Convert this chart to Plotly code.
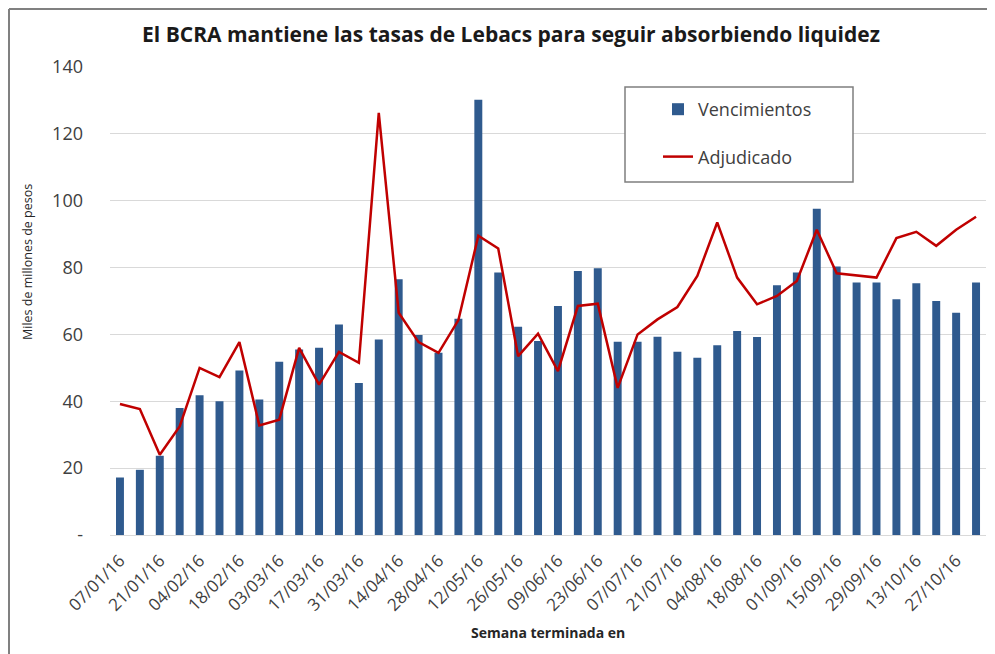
import plotly.graph_objects as go

semanas = ["07/01/16", "14/01/16", "21/01/16", "28/01/16", "04/02/16", "11/02/16",
           "18/02/16", "25/02/16", "03/03/16", "10/03/16", "17/03/16", "24/03/16",
           "31/03/16", "07/04/16", "14/04/16", "21/04/16", "28/04/16", "05/05/16",
           "12/05/16", "19/05/16", "26/05/16", "02/06/16", "09/06/16", "16/06/16",
           "23/06/16", "30/06/16", "07/07/16", "14/07/16", "21/07/16", "28/07/16",
           "04/08/16", "11/08/16", "18/08/16", "25/08/16", "01/09/16", "08/09/16",
           "15/09/16", "22/09/16", "29/09/16", "06/10/16", "13/10/16", "20/10/16",
           "27/10/16", "03/11/16"]

vencimientos = [17.2, 19.5, 23.7, 38, 41.8, 40, 49.2, 40.5, 51.8, 55.5, 56, 63,
                45.5, 58.5, 76.5, 59.8, 54.5, 64.7, 130.2, 78.5, 62.3, 58, 68.5, 79,
                79.8, 57.8, 57.8, 59.3, 54.8, 53, 56.8, 61, 59.2, 74.7, 78.5, 97.6,
                80.3, 75.5, 75.5, 70.5, 75.3, 70, 66.5, 75.5]

adjudicado = [39.2, 37.7, 24, 32.5, 50, 47.2, 57.7, 32.8, 34.5, 56, 45, 54.8,
              51.5, 126.3, 66.5, 57.7, 54.5, 64.3, 89.5, 85.7, 53.5, 60.2, 49, 68.5,
              69.2, 44, 60, 64.5, 68.2, 77.5, 93.5, 77, 69, 71.5, 76, 91.3,
              78.3, 77.7, 77, 88.8, 90.7, 86.5, 91.3, 95.2]

x_ticks = semanas[::2]
y_ticks = [0, 20, 40, 60, 80, 100, 120, 140]
y_ticktext = ["-", "20", "40", "60", "80", "100", "120", "140"]

BAR = "#2F5A8E"
RED = "#C00000"
TXT = "#404040"
GRID = "#D9D9D9"

# the page shows the figure offset by the browser's default 8px body margin
OFF = 8
W, H = 995, 654
L, R, T, B = 110 - OFF, 9 + OFF, 67 - OFF, 119 + OFF
PW, PH = W - L - R, H - T - B


def px(x):
    # screen x -> paper x
    return (x - OFF - L) / PW


def py(y):
    # screen y -> paper y
    return (H - B - (y - OFF)) / PH


fig = go.Figure()
fig.add_trace(go.Bar(x=semanas, y=vencimientos, name="Vencimientos",
                     marker=dict(color=BAR, line=dict(width=0)),
                     width=0.4, legendgroup="a"))
fig.add_trace(go.Scatter(x=semanas, y=adjudicado, name="Adjudicado", mode="lines",
                         line=dict(color=RED, width=2.5), legendgroup="b"))

fig.update_layout(
    width=W, height=H,
    margin=dict(l=L, r=R, t=T, b=B, autoexpand=False),
    paper_bgcolor="white", plot_bgcolor="white",
    font=dict(family="Open Sans, Noto Sans, sans-serif", color=TXT),
    title=dict(text="<b>El BCRA mantiene las tasas de Lebacs para seguir absorbiendo liquidez</b>",
               xref="container", x=(511 - OFF) / W, xanchor="center",
               yref="container", y=1 - (35 - OFF) / H, yanchor="middle",
               font=dict(family="Open Sans, sans-serif", size=21, color="#1a1a1a")),
    showlegend=True,
    legend=dict(x=px(658), y=py(91), xanchor="left", yanchor="top",
                bgcolor="rgba(0,0,0,0)", borderwidth=0,
                font=dict(size=18, color=TXT), traceorder="grouped",
                tracegroupgap=21, itemwidth=30),
    bargap=0.6,
    xaxis=dict(type="category", range=[-0.5, len(semanas) - 0.5],
               tickmode="array", tickvals=x_ticks, ticktext=x_ticks,
               tickangle=-45, tickfont=dict(size=17, color=TXT),
               ticklabelstandoff=8,
               showgrid=False, showline=True, linecolor=GRID, linewidth=1,
               ticks=""),
    yaxis=dict(range=[0, 140], tickmode="array", tickvals=y_ticks, ticktext=y_ticktext,
               tickfont=dict(size=18, color=TXT), showgrid=True, gridcolor=GRID,
               gridwidth=1, zeroline=False, showline=False, ticks="",
               ticklabelstandoff=26),
    shapes=[
        dict(type="rect", xref="paper", yref="paper",
             x0=px(625), x1=px(853), y0=py(182), y1=py(87),
             line=dict(color="#7F7F7F", width=1.5), fillcolor="white", layer="above"),
        dict(type="line", xref="paper", yref="paper",
             x0=px(9), x1=px(1010), y0=py(9), y1=py(9),
             line=dict(color="#808080", width=2)),
        dict(type="line", xref="paper", yref="paper",
             x0=px(9), x1=px(9), y0=py(9), y1=py(680),
             line=dict(color="#808080", width=2)),
    ],
    annotations=[
        dict(text="Miles de millones de pesos", xref="paper", yref="paper",
             x=px(28), y=py(262), textangle=-90, showarrow=False,
             xanchor="center", yanchor="middle",
             font=dict(size=12.5, color="#262626")),
        dict(text="<b>Semana terminada en</b>", xref="paper", yref="paper",
             x=px(548), y=py(632), showarrow=False, xanchor="center", yanchor="middle",
             font=dict(size=14, color="#262626")),
    ],
)

fig.write_html("out.html")
